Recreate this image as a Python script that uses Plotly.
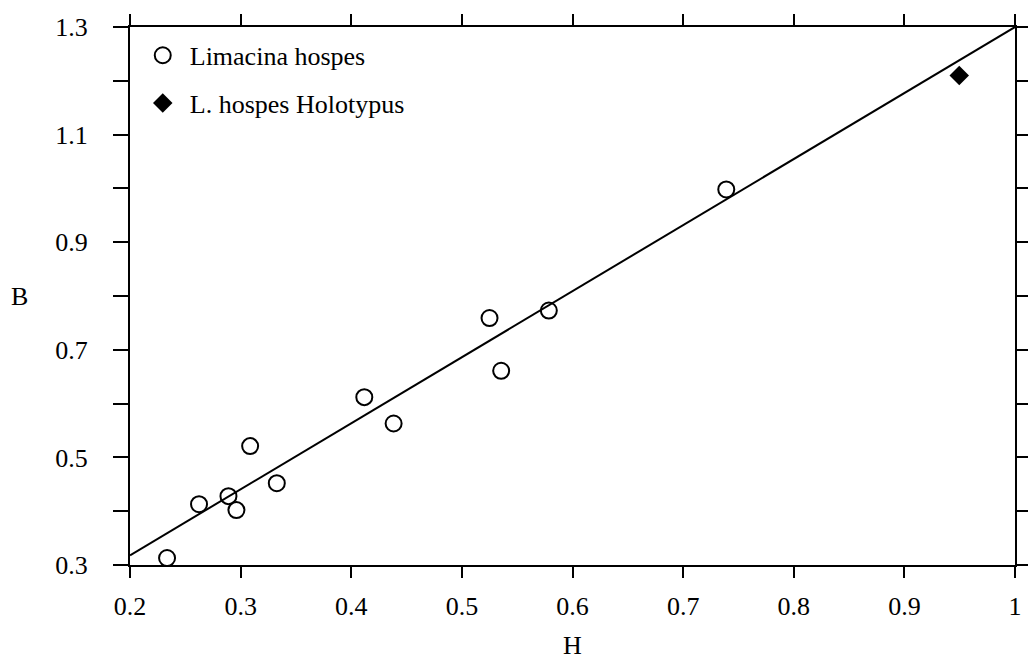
import plotly.graph_objects as go

# Data
H_limacina = [0.2335, 0.2624, 0.289, 0.2962, 0.3086, 0.3327, 0.4118, 0.4383, 0.525, 0.5355, 0.5786, 0.739]
B_limacina = [0.313, 0.413, 0.428, 0.402, 0.521, 0.452, 0.612, 0.563, 0.759, 0.661, 0.773, 0.998]
H_holotypus = [0.9496]
B_holotypus = [1.210]

# Regression line B = slope * H + intercept
slope = 1.2275
intercept = 0.0725
H_line = [0.2, 1.0]
B_line = [slope * h + intercept for h in H_line]

x_ticks = [0.2, 0.3, 0.4, 0.5, 0.6, 0.7, 0.8, 0.9, 1.0]
x_labels = ["0.2", "0.3", "0.4", "0.5", "0.6", "0.7", "0.8", "0.9", "1"]
y_ticks = [0.3, 0.4, 0.5, 0.6, 0.7, 0.8, 0.9, 1.0, 1.1, 1.2, 1.3]
y_labels = ["0.3", "", "0.5", "", "0.7", "", "0.9", "", "1.1", "", "1.3"]

font_family = "Liberation Serif"
fsize = 26

fig = go.Figure()
fig.add_trace(go.Scatter(
    x=H_line, y=B_line, mode="lines",
    line=dict(color="black", width=2), showlegend=False, hoverinfo="skip"))
fig.add_trace(go.Scatter(
    x=H_limacina, y=B_limacina, mode="markers", name="Limacina hospes",
    legendgroup="a",
    marker=dict(symbol="circle-open", size=16, color="black", line=dict(width=2))))
fig.add_trace(go.Scatter(
    x=H_holotypus, y=B_holotypus, mode="markers", name="L. hospes Holotypus",
    legendgroup="b",
    marker=dict(symbol="diamond", size=15, color="black")))

axis_common = dict(
    showline=True, linecolor="black", linewidth=2, mirror="ticks",
    ticks="outside", tickwidth=2, tickcolor="black",
    showgrid=False, zeroline=False, automargin=False,
    tickfont=dict(family=font_family, size=fsize, color="black"),
)

fig.update_xaxes(
    range=[0.2, 1.0], tickvals=x_ticks, ticktext=x_labels,
    ticklen=11, ticklabelstandoff=6,
    **axis_common)
fig.update_yaxes(
    range=[0.3, 1.3], tickvals=y_ticks, ticktext=y_labels,
    ticklen=15, ticklabelstandoff=20,
    **axis_common)

fig.add_annotation(
    text="H", xref="paper", yref="paper", x=0.5, y=0, yshift=-80,
    showarrow=False, xanchor="center", yanchor="middle",
    font=dict(family=font_family, size=fsize, color="black"))
fig.add_annotation(
    text="B", xref="paper", yref="paper", x=0, y=0.5, xshift=-111,
    showarrow=False, xanchor="center", yanchor="middle",
    font=dict(family=font_family, size=fsize, color="black"))

fig.update_layout(
    width=1028, height=660,
    margin=dict(l=130, r=13, t=27, b=95),
    paper_bgcolor="white", plot_bgcolor="white",
    font=dict(family=font_family, color="black"),
    showlegend=True,
    legend=dict(
        x=0.0065, y=0.991, xanchor="left", yanchor="top",
        bgcolor="rgba(0,0,0,0)", borderwidth=0,
        font=dict(family=font_family, size=fsize, color="black"),
        tracegroupgap=11, itemwidth=44,
    ),
)

fig.write_html("out.html")
